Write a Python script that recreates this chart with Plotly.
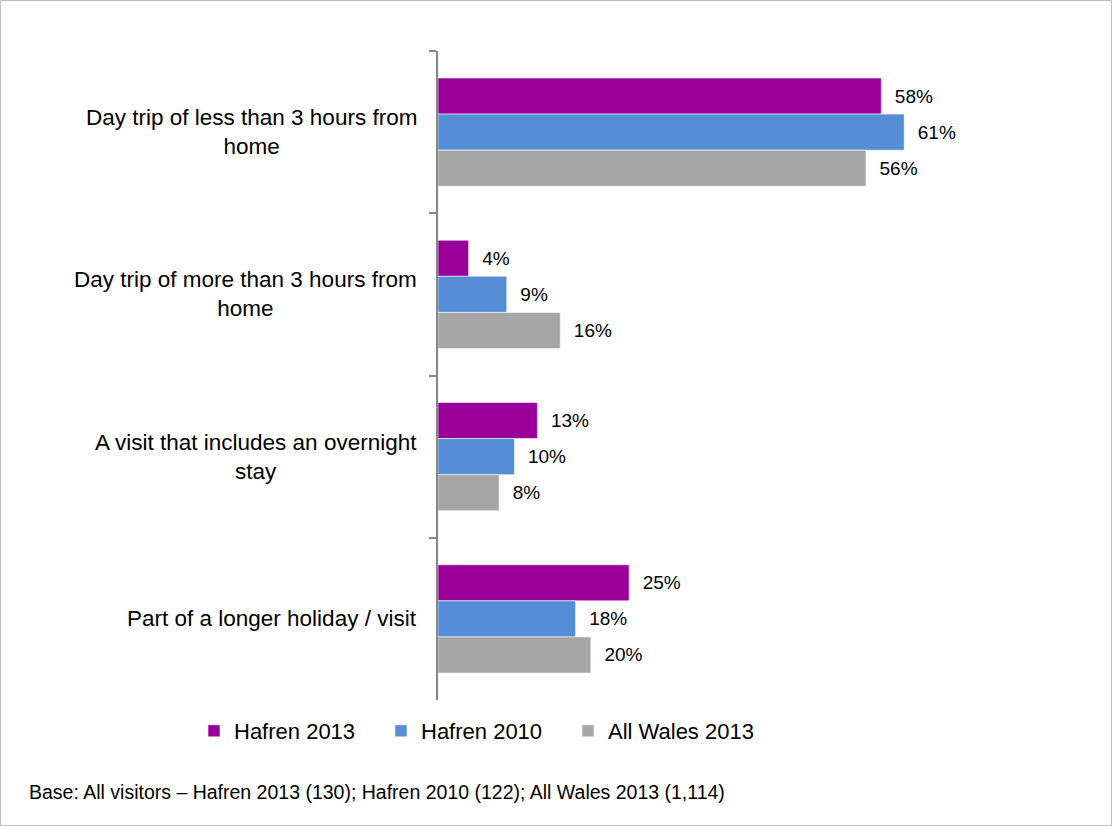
import plotly.graph_objects as go

# Categories (top to bottom) and percentage values per series
categories = [
    "Day trip of less than 3 hours from<br>home",
    "Day trip of more than 3 hours from<br>home",
    "A visit that includes an overnight<br>stay",
    "Part of a longer holiday / visit",
]
series_names = ["Hafren 2013", "Hafren 2010", "All Wales 2013"]
hafren_2013 = [58, 4, 13, 25]
hafren_2010 = [61, 9, 10, 18]
all_wales_2013 = [56, 16, 8, 20]
series_values = [hafren_2013, hafren_2010, all_wales_2013]
series_colors = ["#990099", "#558ED5", "#A6A6A6"]
footnote = "Base: All visitors \u2013 Hafren 2013 (130); Hafren 2010 (122); All Wales 2013 (1,114)"

W, H = 1113, 827
L, R, T, B = 438, 140, 51, 127
pw, ph = W - L - R, H - T - B

def px_x(px):
    return (px - L) / pw

def px_y(py):
    return (H - B - py) / ph

FONT = "Arial, Liberation Sans, sans-serif"

fig = go.Figure()
for name, vals, col in zip(series_names, series_values, series_colors):
    fig.add_trace(go.Bar(
        y=categories, x=vals, name=name, orientation="h",
        marker=dict(color=col, line=dict(color="rgba(255,255,255,0.55)", width=1)),
        text=[f"\u00a0\u00a0{v}%" for v in vals],
        textposition="outside", cliponaxis=False,
        textfont=dict(family=FONT, size=19, color="#000000"),
    ))

# Category labels, centred multi-line blocks right-aligned to the axis
for c in categories:
    fig.add_annotation(
        xref="paper", yref="y", x=px_x(419), y=c, text=c,
        xanchor="right", yanchor="middle", align="center", showarrow=False,
        font=dict(family=FONT, size=22.5, color="#000000"),
    )

fig.add_annotation(
    xref="paper", yref="paper", x=px_x(27), y=px_y(792), text=footnote,
    xanchor="left", yanchor="middle", showarrow=False,
    font=dict(family=FONT, size=19.5, color="#000000"),
)

# Outer chart border
fig.add_shape(
    type="rect", xref="paper", yref="paper",
    x0=px_x(0.5), x1=px_x(W - 1.5), y0=px_y(H - 1.5), y1=px_y(0.5),
    line=dict(color="#BFBFBF", width=1), layer="below",
)

fig.update_layout(
    width=W, height=H,
    margin=dict(l=L, r=R, t=T, b=B, pad=0),
    paper_bgcolor="white", plot_bgcolor="white",
    barmode="group", bargap=0.333, bargroupgap=0,
    font=dict(family=FONT, color="#000000"),
    showlegend=True,
    legend=dict(
        orientation="h", x=px_x(194), y=px_y(731), xanchor="left", yanchor="middle",
        font=dict(family=FONT, size=22, color="#000000"),
        entrywidthmode="pixels", entrywidth=142,
        traceorder="normal", bgcolor="rgba(0,0,0,0)",
    ),
    xaxis=dict(range=[0, 70], visible=False, fixedrange=True),
    yaxis=dict(
        autorange="reversed", showticklabels=False,
        showline=True, linecolor="#868686", linewidth=1.5,
        ticks="outside", tickson="boundaries", ticklen=7, tickcolor="#868686", tickwidth=1.5,
        showgrid=False, zeroline=False,
    ),
)

fig.write_html("out.html")
